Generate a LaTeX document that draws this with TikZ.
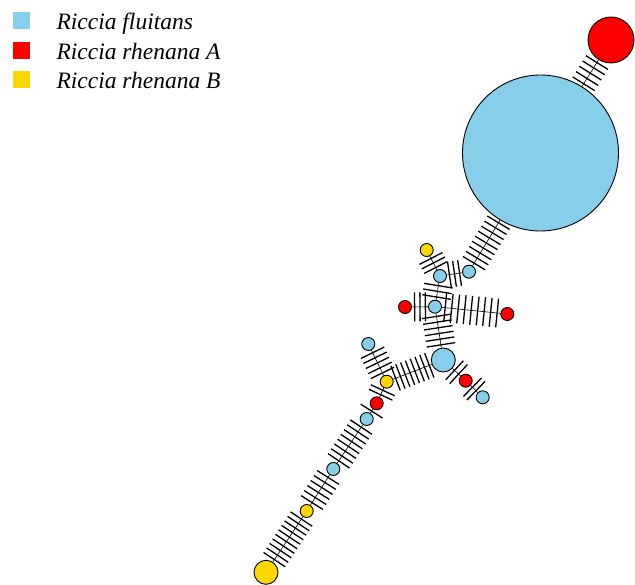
\documentclass[tikz,border=0pt]{standalone}
\usepackage{fontspec}
\setmainfont{Liberation Serif}
\usetikzlibrary{decorations.markings,backgrounds}
\definecolor{fluit}{HTML}{87CEEB}
\definecolor{rhenA}{HTML}{FF0000}
\definecolor{rhenB}{HTML}{FFD700}

\tikzset{tickhalf/.initial=13pt}

\begin{document}
\begin{tikzpicture}[x=1pt,y=-1pt,
  hap/.style={circle,draw=black,line width=0.9pt,inner sep=0pt,minimum size=#1},
  hap/.default=13pt,
  sq/.style={rectangle,inner sep=0pt,minimum size=17pt},
  legtext/.style={anchor=base west,font=\itshape\fontsize{23.5}{28}\selectfont},
  link/.style={line width=0.6pt},
  longticks/.style={tickhalf=14.5pt},
  muts/.style={link,postaction={decorate,decoration={markings,
      mark=between positions {0.5/#1} and {1-0.4/#1} step {1/#1} with
      {\draw[line width=1.3pt,line cap=butt]
         (0pt,-\pgfkeysvalueof{/tikz/tickhalf}) -- (0pt,\pgfkeysvalueof{/tikz/tickhalf});}}}}
]
\useasboundingbox (0,0) rectangle (635,585);

% legend
\node[sq,fill=fluit] (kF) at (21.5,21) {};
\node[sq,fill=rhenA] (kA) at (21.5,51) {};
\node[sq,fill=rhenB] (kB) at (21.5,80) {};
\node[legtext] (tF) at (53,30) {Riccia fluitans};
\node[legtext] (tA) at (53,60) {Riccia rhenana A};
\node[legtext] (tB) at (53,89) {Riccia rhenana B};

% haplotypes
\node[hap=156pt,fill=fluit] (BF) at (540.5,153) {};
\node[hap=46pt,fill=rhenA] (RA) at (611,40) {};
\node[hap,fill=fluit] (H1) at (469,271.7) {};
\node[hap,fill=fluit] (H2) at (440,276) {};
\node[hap,fill=rhenB] (Y1) at (426.7,250) {};
\node[hap,fill=fluit] (C)  at (435,306.7) {};
\node[hap,fill=rhenA] (RL) at (405,307) {};
\node[hap,fill=rhenA] (RR) at (507.3,314) {};
\node[hap=24pt,fill=fluit] (M) at (443.3,360) {};
\node[hap,fill=rhenA] (RM) at (465.7,380.7) {};
\node[hap,fill=fluit] (BM) at (482.7,397.3) {};
\node[hap,fill=fluit] (BU) at (368.3,344) {};
\node[hap,fill=rhenB] (Y2) at (386.7,381.7) {};
\node[hap,fill=rhenA] (R2) at (376.7,403.3) {};
\node[hap,fill=fluit] (B3) at (366.7,419) {};
\node[hap,fill=fluit] (B4) at (333.3,469) {};
\node[hap,fill=rhenB] (Y3) at (306.7,511) {};
\node[hap=24pt,fill=rhenB] (YB) at (266,572.3) {};

% links with mutation marks
\begin{scope}[on background layer]
\draw[muts=5]  (RA) -- (BF);
\draw[muts=9]  (BF) -- (H1);
\draw[muts=3]  (H1) -- (H2);
\draw[muts=3]  (Y1) -- (H2);
\draw[longticks,muts=3]  (H2) -- (C);
\draw[longticks,muts=3]  (RL) -- (C);
\draw[longticks,muts=9]  (C) -- (RR);
\draw[longticks,muts=6]  (C) -- (M);
\draw[muts=2]  (M) -- (RM);
\draw[muts=2]  (RM) -- (BM);
\draw[muts=8]  (M) -- (Y2);
\draw[muts=5]  (BU) -- (Y2);
\draw[muts=2]  (Y2) -- (R2);
\draw[muts=1]  (R2) -- (B3);
\draw[muts=8]  (B3) -- (B4);
\draw[muts=6]  (B4) -- (Y3);
\draw[muts=10] (Y3) -- (YB);
\end{scope}
\end{tikzpicture}
\end{document}
